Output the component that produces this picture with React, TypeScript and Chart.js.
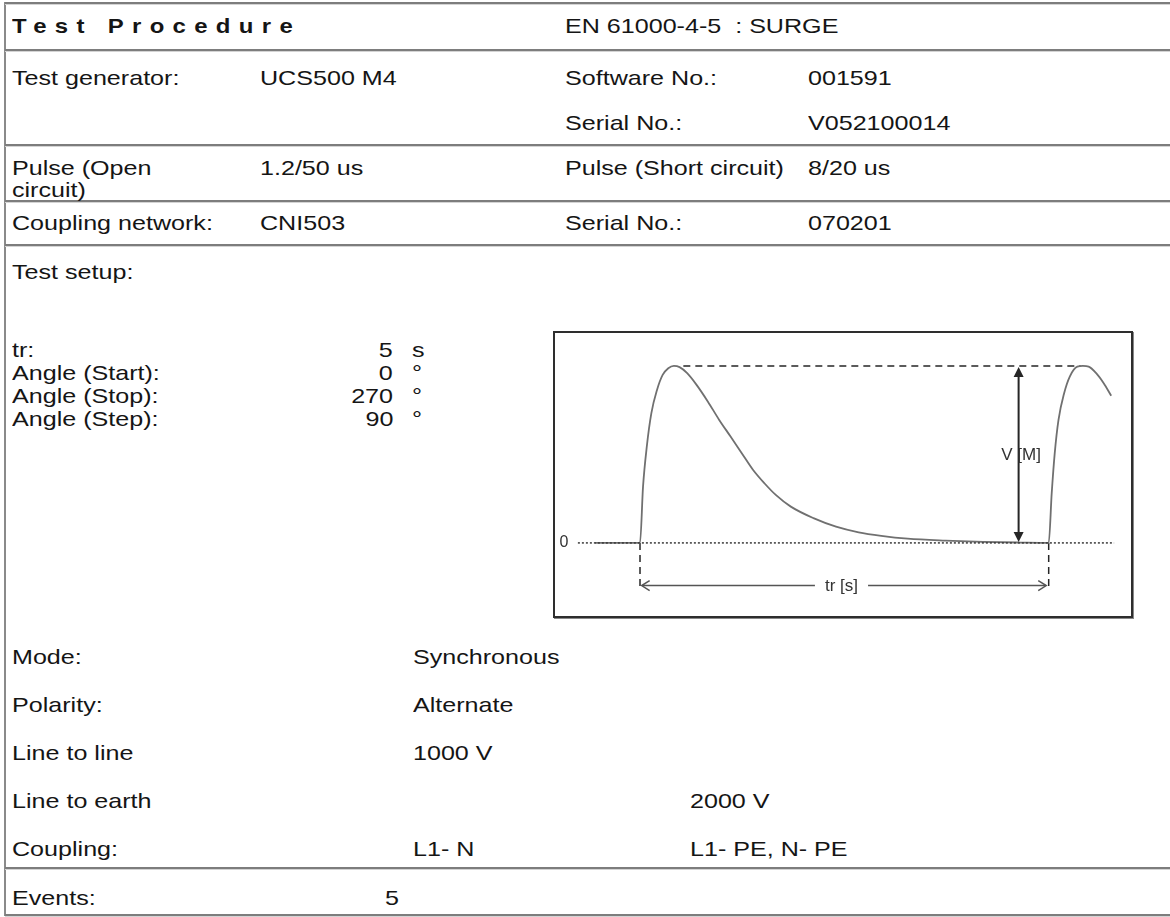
import React, { useEffect, useRef } from "react";
import { Chart, registerables } from "chart.js";

Chart.register(...registerables);

// ---------- data ----------
// waveform: time in seconds (tr = 5 s between pulses), normalized voltage
const pulseTime = [-0.55, 0, 0.037, 0.083, 0.139, 0.208, 0.277, 0.346, 0.415, 0.484, 0.577, 0.692, 0.831, 0.969, 1.108, 1.245, 1.384, 1.522, 1.661, 1.845, 2.122, 2.398, 2.675, 2.952, 3.275, 3.737, 4.197, 4.659, 5.0, 5.037, 5.074, 5.12, 5.189, 5.258, 5.35, 5.419, 5.489, 5.581, 5.673, 5.765];
const pulseVolt = [0, 0, 0.318, 0.544, 0.733, 0.864, 0.949, 0.987, 1.0, 0.993, 0.959, 0.893, 0.798, 0.695, 0.601, 0.507, 0.412, 0.337, 0.271, 0.205, 0.14, 0.092, 0.06, 0.04, 0.024, 0.013, 0.006, 0.002, 0, 0.281, 0.507, 0.695, 0.846, 0.94, 0.996, 1.0, 0.996, 0.959, 0.902, 0.831];
const trSeconds = 5;
const peakVolt = 1;
const zeroLineRange = [-0.76, 5.8];
const peakLineRange = [0.53, 5.39];
const vArrowTime = 4.632;
const markerDepth = -0.266;
const trArrowLevel = -0.241;
const trArrowGap = [2.14, 2.79];
const chartTexts = ["0", "V [M]", "tr [s]"];

// table texts
const headerTexts = ["Test Procedure", "EN 61000-4-5  : SURGE"];
const generatorRow = ["Test generator:", "UCS500 M4", "Software No.:", "001591"];
const serialRow = ["Serial No.:", "V052100014"];
const pulseRow = ["Pulse (Open", "circuit)", "1.2/50 us", "Pulse (Short circuit)", "8/20 us"];
const couplingNetRow = ["Coupling network:", "CNI503", "Serial No.:", "070201"];
const setupLabels = ["tr:", "Angle (Start):", "Angle (Stop):", "Angle (Step):"];
const setupValues = ["5", "0", "270", "90"];
const setupUnits = ["s", "°", "°", "°"];
const lowerLabels = ["Mode:", "Polarity:", "Line to line", "Line to earth", "Coupling:"];
const lowerCol1 = ["Synchronous", "Alternate", "1000 V", "", "L1- N"];
const lowerCol2 = ["", "", "", "2000 V", "L1- PE, N- PE"];
const eventsRow = ["Events:", "5"];

const FONT = '"Liberation Sans", Arial, Helvetica, sans-serif';

function Txt(props: { x: number; y: number; children: React.ReactNode; right?: boolean; style?: React.CSSProperties }) {
  const s: React.CSSProperties = {
    position: "absolute",
    top: props.y - 9,
    height: 18,
    lineHeight: "18px",
    fontSize: 21,
    fontFamily: FONT,
    color: "#151515",
    whiteSpace: "pre",
    transform: "scaleX(1.195)",
    transformOrigin: props.right ? "right center" : "left center",
    ...(props.right ? { right: 1170 - props.x, textAlign: "right" } : { left: props.x }),
    ...props.style,
  };
  return <div style={s}>{props.children}</div>;
}

function HLine({ y }: { y: number }) {
  return (
    <div
      style={{
        position: "absolute",
        left: 5,
        right: 0,
        top: y - 1,
        height: 2,
        background: "#7d7d7d",
        boxShadow: "0 1px 0 #d4d4d4",
      }}
    />
  );
}

function Waveform() {
  const ref = useRef<HTMLCanvasElement | null>(null);
  useEffect(() => {
    if (!ref.current) return;
    const curve = pulseTime.map((t, i) => ({ x: t, y: pulseVolt[i] }));
    const seg = (a: number[], b: number[]) => [
      { x: a[0], y: a[1] },
      { x: b[0], y: b[1] },
    ];
    const dark = "#262626";
    const annot = {
      id: "annot",
      afterDatasetsDraw(chart: any) {
        const { ctx, scales } = chart;
        const X = (v: number) => scales.x.getPixelForValue(v);
        const Y = (v: number) => scales.y.getPixelForValue(v);
        ctx.save();
        // V arrow heads
        ctx.fillStyle = dark;
        const ax = X(vArrowTime);
        const top = Y(peakVolt);
        const bot = Y(0);
        ctx.beginPath();
        ctx.moveTo(ax, top + 1);
        ctx.lineTo(ax - 5, top + 11);
        ctx.lineTo(ax + 5, top + 11);
        ctx.closePath();
        ctx.fill();
        ctx.beginPath();
        ctx.moveTo(ax, bot - 1);
        ctx.lineTo(ax - 5, bot - 11);
        ctx.lineTo(ax + 5, bot - 11);
        ctx.closePath();
        ctx.fill();
        // tr arrow heads (open)
        ctx.strokeStyle = "#555";
        ctx.lineWidth = 1.5;
        const ty = Y(trArrowLevel);
        const lx = X(0.02);
        const rx = X(trSeconds - 0.03);
        ctx.beginPath();
        ctx.moveTo(lx + 8, ty - 5);
        ctx.lineTo(lx, ty);
        ctx.lineTo(lx + 8, ty + 5);
        ctx.moveTo(rx - 8, ty - 5);
        ctx.lineTo(rx, ty);
        ctx.lineTo(rx - 8, ty + 5);
        ctx.stroke();
        // texts
        ctx.fillStyle = "#333";
        ctx.textBaseline = "middle";
        ctx.textAlign = "center";
        ctx.font = `16px ${FONT}`;
        ctx.fillText(chartTexts[0], X(-0.93), Y(0));
        ctx.font = `17px ${FONT}`;
        ctx.fillText(chartTexts[1], X(vArrowTime + 0.03), Y(0.497));
        ctx.fillText(chartTexts[2], X((trArrowGap[0] + trArrowGap[1]) / 2), Y(trArrowLevel) + 1);
        ctx.restore();
      },
    };
    const chart = new Chart(ref.current, {
      type: "line",
      data: {
        datasets: [
          {
            data: seg([zeroLineRange[0], 0], [zeroLineRange[1], 0]),
            borderColor: "#3a3a3a",
            borderWidth: 1.5,
            borderDash: [2, 2],
            pointRadius: 0,
          },
          {
            data: curve,
            borderColor: "#707070",
            borderWidth: 1.8,
            cubicInterpolationMode: "monotone",
            pointRadius: 0,
          },
          {
            data: seg([peakLineRange[0], peakVolt], [peakLineRange[1], peakVolt]),
            borderColor: dark,
            borderWidth: 1.5,
            borderDash: [7, 5],
            pointRadius: 0,
          },
          {
            data: seg([0, 0], [0, markerDepth]),
            borderColor: dark,
            borderWidth: 1.5,
            borderDash: [7, 5],
            pointRadius: 0,
          },
          {
            data: seg([trSeconds, 0], [trSeconds, markerDepth]),
            borderColor: dark,
            borderWidth: 1.5,
            borderDash: [7, 5],
            pointRadius: 0,
          },
          {
            data: seg([vArrowTime, peakVolt - 0.03], [vArrowTime, 0.03]),
            borderColor: dark,
            borderWidth: 2,
            pointRadius: 0,
          },
          {
            data: seg([0.03, trArrowLevel], [trArrowGap[0], trArrowLevel]),
            borderColor: "#555",
            borderWidth: 1.5,
            pointRadius: 0,
          },
          {
            data: seg([trArrowGap[1], trArrowLevel], [trSeconds - 0.04, trArrowLevel]),
            borderColor: "#555",
            borderWidth: 1.5,
            pointRadius: 0,
          },
        ],
      },
      options: {
        animation: false,
        responsive: false,
        maintainAspectRatio: false,
        layout: { padding: 0 },
        plugins: { legend: { display: false }, tooltip: { enabled: false }, title: { display: false } },
        scales: {
          x: { type: "linear", display: false, min: -1.04, max: 6.007 },
          y: { type: "linear", display: false, min: -0.413, max: 1.186 },
        },
      },
      plugins: [annot],
    } as any);
    return () => chart.destroy();
  }, []);
  return (
    <div
      style={{
        position: "absolute",
        left: 553,
        top: 331,
        width: 580,
        height: 287,
        boxSizing: "border-box",
        border: "2px solid #2e2e2e",
        boxShadow: "1px 1px 0 #888",
        background: "#fff",
      }}
    >
      <canvas ref={ref} width={576} height={283} style={{ display: "block", width: 576, height: 283 }} />
    </div>
  );
}

export default function App() {
  const setupY = [350, 373, 396, 419];
  const lowerY = [657, 705, 753, 801, 849];
  return (
    <div
      style={{
        position: "fixed",
        left: 0,
        top: 0,
        width: 1170,
        height: 917,
        background: "#fff",
        overflow: "hidden",
      }}
    >
      {/* frame lines */}
      <div style={{ position: "absolute", left: 4, top: 2, width: 2, height: 914, background: "#8a8a8a" }} />
      {[3, 50, 145, 201, 245, 868, 915].map((y) => (
        <HLine key={y} y={y} />
      ))}

      <Txt x={12} y={26} style={{ fontWeight: "bold", fontSize: 21, letterSpacing: 7.3, transform: "scaleX(1.14)" }}>
        {headerTexts[0]}
      </Txt>
      <Txt x={565} y={26}>{headerTexts[1]}</Txt>

      <Txt x={12} y={78}>{generatorRow[0]}</Txt>
      <Txt x={260} y={78}>{generatorRow[1]}</Txt>
      <Txt x={565} y={78}>{generatorRow[2]}</Txt>
      <Txt x={808} y={78}>{generatorRow[3]}</Txt>

      <Txt x={565} y={123}>{serialRow[0]}</Txt>
      <Txt x={808} y={123}>{serialRow[1]}</Txt>

      <Txt x={12} y={168}>{pulseRow[0]}</Txt>
      <Txt x={12} y={190}>{pulseRow[1]}</Txt>
      <Txt x={260} y={168}>{pulseRow[2]}</Txt>
      <Txt x={565} y={168}>{pulseRow[3]}</Txt>
      <Txt x={808} y={168}>{pulseRow[4]}</Txt>

      <Txt x={12} y={223}>{couplingNetRow[0]}</Txt>
      <Txt x={260} y={223}>{couplingNetRow[1]}</Txt>
      <Txt x={565} y={223}>{couplingNetRow[2]}</Txt>
      <Txt x={808} y={223}>{couplingNetRow[3]}</Txt>

      <Txt x={12} y={272}>Test setup:</Txt>

      {setupLabels.map((l, i) => (
        <React.Fragment key={l}>
          <Txt x={12} y={setupY[i]}>{l}</Txt>
          <Txt x={393} y={setupY[i]} right>{setupValues[i]}</Txt>
          <Txt x={412} y={setupY[i]}>{setupUnits[i]}</Txt>
        </React.Fragment>
      ))}

      <Waveform />

      {lowerLabels.map((l, i) => (
        <React.Fragment key={l}>
          <Txt x={12} y={lowerY[i]}>{l}</Txt>
          {lowerCol1[i] ? <Txt x={413} y={lowerY[i]}>{lowerCol1[i]}</Txt> : null}
          {lowerCol2[i] ? <Txt x={690} y={lowerY[i]}>{lowerCol2[i]}</Txt> : null}
        </React.Fragment>
      ))}

      <Txt x={12} y={898}>{eventsRow[0]}</Txt>
      <Txt x={385} y={898}>{eventsRow[1]}</Txt>
    </div>
  );
}
